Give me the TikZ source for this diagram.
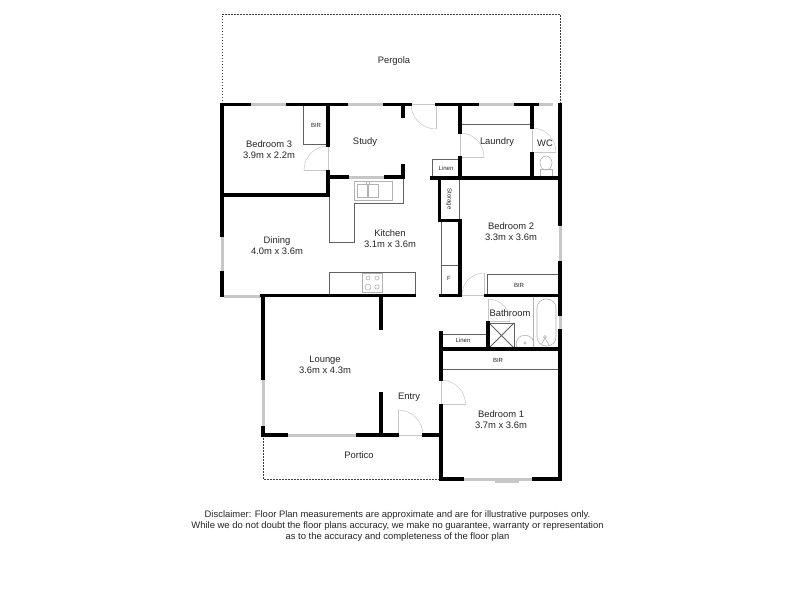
\documentclass[tikz,border=0pt]{standalone}
\usepackage{fontspec}
\setmainfont{Liberation Sans}
\begin{document}
\begin{tikzpicture}[x=1pt,y=-1pt,
  wall/.style={line width=3.6pt,black,line cap=rect},
  win/.style={line width=3pt,black!22},
  thin/.style={line width=0.75pt,black!62},
  fixt/.style={line width=0.6pt,black!30},
  door/.style={line width=0.5pt,black!22},
  outl/.style={line width=0.6pt,black!75,dash pattern=on 1.5pt off 1.5pt},
  lab/.style={font=\fontsize{9.4}{11.2}\selectfont,align=center,text=black!85,inner sep=0pt},
  small/.style={font=\fontsize{6}{7}\selectfont,text=black!85,inner sep=0pt},
  note/.style={font=\fontsize{9.45}{10.7}\selectfont,align=center,text=black!85,inner sep=0pt}]
\useasboundingbox (0,0) rectangle (800,600);
\fill[white] (0,0) rectangle (800,600);
% outlines
\draw[outl] (222,104) -- (222,14) -- (560,14) -- (560,104);
\draw[outl] (263,435) -- (263,479) -- (441,479);
% windows
\foreach \a/\b/\c/\d in {250/104.5/287/104.5,347/104.5/384/104.5,478/104.5/515/104.5,538/104.5/553/104.5,
  222/236/222/272,224/296/261/296,348/177/385/177,263/379/263/427,287/435/357/435,463/479/533/479,
  560/225/560/262,560/315/560/330,495/481/519/481}
  \draw[win] (\a,\b) -- (\c,\d);
% thin joinery
\draw[thin] (303,104) -- (303,144) -- (328,144);
\draw[thin] (329,196) -- (329,242) -- (354,242) -- (354,203) -- (403,203) -- (403,177);
\draw[thin] (329,296) -- (329,272) -- (415,272) -- (415,296);
\draw[thin] (460,124) -- (532,124);
\draw[thin] (432,177) -- (432,159.5) -- (460,159.5);
\draw[thin] (459.5,178) -- (459.5,220);
\draw[thin] (441,220) -- (441,295);
\draw[thin] (441,265) -- (460,265);
\draw[thin] (487,295) -- (487,274) -- (558,274);
\draw[thin] (443,334) -- (488,334);
\draw[thin] (443,369) -- (558,369);
\draw[thin] (489,323) rectangle (514,348);
\draw[thin] (489,323) -- (514,348) (514,323) -- (489,348);
% fixtures
\draw[fixt] (354,181) rectangle (392,200);
\draw[fixt] (357,184) rectangle (367,197);
\draw[fixt] (368.5,184) rectangle (378,197);
\draw[fixt] (366,181) rectangle (369,184);
\draw[fixt] (362,273) rectangle (382,292);
\foreach \p/\q/\r in {368/278/2,377/278/2,368/287/3,377/287/2.2} \draw[fixt] (\p,\q) circle (\r);
\draw[fixt] (546,163) ellipse (6 and 7);
\draw[fixt] (540,169.5) rectangle (552,176);
\draw[fixt] (533,297) -- (533,348);
\draw[fixt,rounded corners=9pt] (537,299) rectangle (556,346);
\draw[fixt] (545,337) circle (1.5) (541,345) -- (545,338) -- (549,345);
\draw[fixt] (517,348) .. controls (511,331) and (539,331) .. (533,348);
\draw[fixt] (525,343) circle (1.2);
% doors
\draw[door] (411,104) arc[start angle=180,end angle=90,radius=25];
\draw[door] (436,104) -- (436,129) (411,104) -- (436,104);
\draw[door] (328,146) arc[start angle=-90,end angle=-180,radius=24];
\draw[door] (304,170) -- (328,170) -- (328,146);
\draw[door] (460,133) arc[start angle=-90,end angle=0,radius=24];
\draw[door] (484,157) -- (460,157) -- (460,133);
\draw[door] (532,128) arc[start angle=-90,end angle=0,radius=24];
\draw[door] (556,152) -- (532,152) -- (532,128);
\draw[door] (462,295) arc[start angle=180,end angle=270,radius=22];
\draw[door] (484,273) -- (484,295) -- (462,295);
\draw[door] (488,299) arc[start angle=-90,end angle=0,radius=22];
\draw[door] (510,321) -- (488,321) -- (488,299);
\draw[door] (441,380) arc[start angle=-90,end angle=0,radius=24.5];
\draw[door] (465.5,404.5) -- (441,404.5) -- (441,380);
\draw[door] (398,410) arc[start angle=-90,end angle=0,radius=25];
\draw[door] (398,435) -- (398,410) (398,435) -- (423,435);
% walls
\foreach \a/\b/\c/\d in {
  222/104.5/249/104.5,288/104.5/346/104.5,385/104.5/410/104.5,437/104.5/477/104.5,516/104.5/537/104.5,
  222/104.5/222/235,222/273/222/295,
  403/105/403/116,328/105/328/145,328/172/328/195,222/195/328/195,
  329/177/347/177,386/177/403/177,403/166/403/177,
  262/295.5/414/295.5,441/295.5/459/295.5,263/296/263/378,381/296/381/328,263/428/263/435,
  263/435/286/435,358/435/397/435,424/435/440/435,381/394/381/435,
  441/333/441/379,441/406/441/478,441/479/462/479,534/479/560/479,441/349/558/349,488/323/488/349,
  560/105/560/224,560/263/560/314,560/331/560/479,
  432/178/559/178,439.5/178/439.5/220,439.5/220.5/460/220.5,460/221/460/295,
  460/105/460/132,460/158/460/178,532/105/532/127,532/154/532/178,
  486/295.5/560/295.5}
  \draw[wall] (\a,\b) -- (\c,\d);
% labels
\node[lab] (pergola) at (394,61) {Pergola};
\node[lab] (bed3) at (269,149.5) {Bedroom 3\\3.9m x 2.2m};
\node[small] (bir3) at (316,125) {BIR};
\node[lab] (study) at (365,142) {Study};
\node[lab] (laundry) at (497,142) {Laundry};
\node[lab] (wc) at (545,143) {WC};
\node[small] (linen1) at (446,168) {Linen};
\node[small,rotate=-90] (storage) at (449,199) {Storage};
\node[lab] (bed2) at (511,231.5) {Bedroom 2\\3.3m x 3.6m};
\node[lab] (dining) at (277,245.5) {Dining\\4.0m x 3.6m};
\node[lab] (kitchen) at (390,238.5) {Kitchen\\3.1m x 3.6m};
\node[small] (f) at (449,278) {F};
\node[small] (bir2) at (519,285) {BIR};
\node[lab] (bath) at (510,313) {Bathroom};
\node[small] (linen2) at (463,340) {Linen};
\node[small] (bir1) at (498,360) {BIR};
\node[lab] (lounge) at (325,364.5) {Lounge\\3.6m x 4.3m};
\node[lab] (entry) at (409,397) {Entry};
\node[lab] (bed1) at (501,420) {Bedroom 1\\3.7m x 3.6m};
\node[lab] (portico) at (359,455) {Portico};
\node[note] (note) at (397.5,526) {Disclaimer: Floor Plan measurements are approximate and are for illustrative purposes only.\\While we do not doubt the floor plans accuracy, we make no guarantee, warranty or representation\\as to the accuracy and completeness of the floor plan};
\end{tikzpicture}
\end{document}
